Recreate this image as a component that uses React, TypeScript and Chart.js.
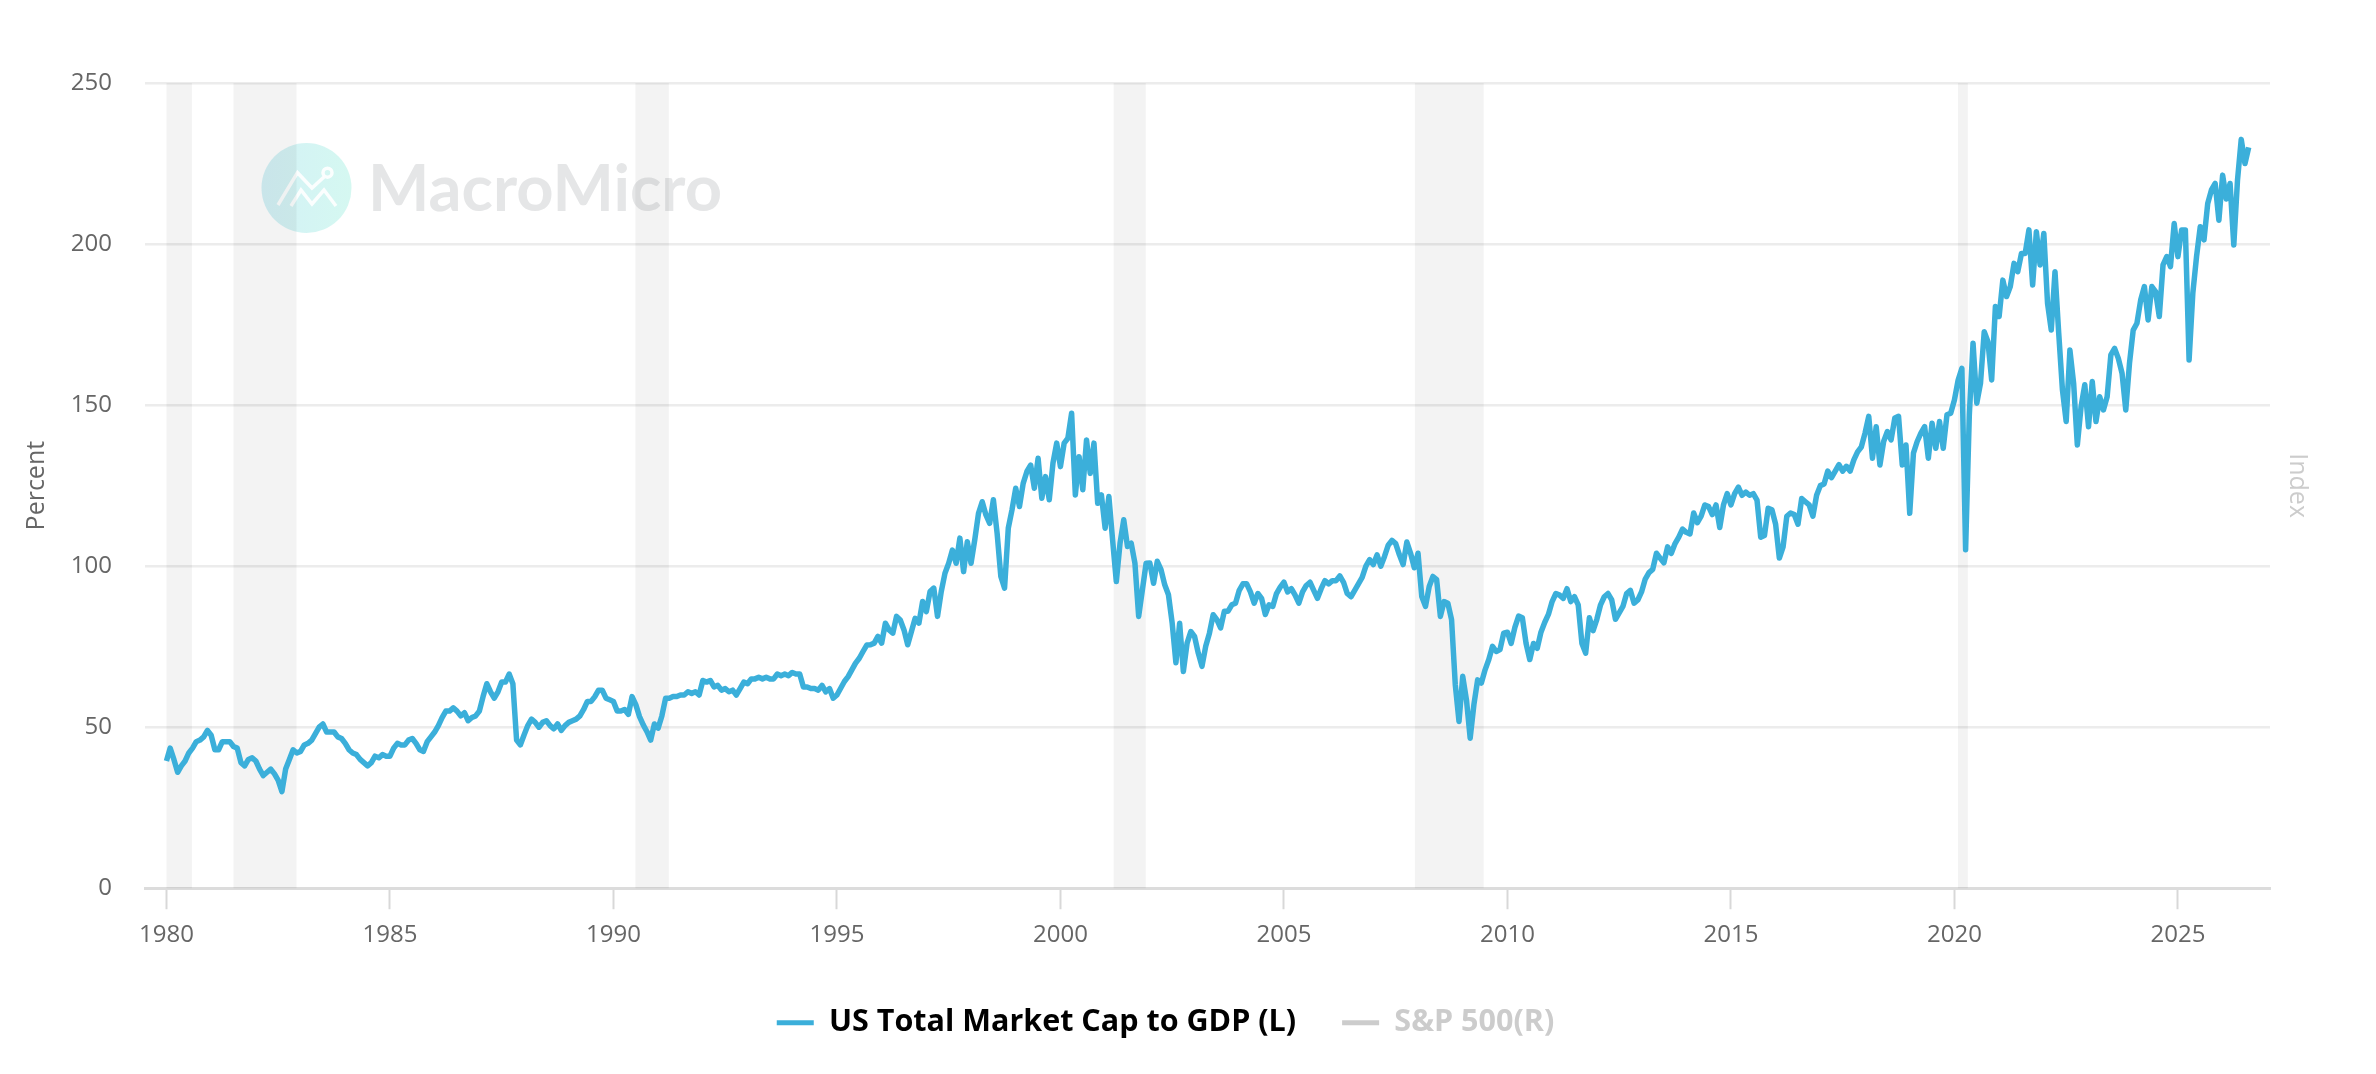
import React, { useEffect, useRef } from "react";
import { Chart, registerables } from "chart.js";

Chart.register(...registerables);

const seriesName = "US Total Market Cap to GDP (L)";
const otherSeriesName = "S&P 500(R)";
const yearTicks = [1980, 1985, 1990, 1995, 2000, 2005, 2010, 2015, 2020, 2025];
const percentTicks = [0, 50, 100, 150, 200, 250];
const recessions = [
  [1980.0, 1980.57],
  [1981.5, 1982.91],
  [1990.49, 1991.24],
  [2001.19, 2001.91],
  [2007.93, 2009.47],
  [2020.08, 2020.3],
];

// Monthly readings, January 1980 onward
const values1980s = [
  39.5, 43.5, 40, 36, 38, 39.5, 42, 43.5, 45.5, 46, 47, 49,
  47.5, 43, 43, 45.5, 45.5, 45.5, 44, 43.5, 39, 38, 40, 40.5,
  39.5, 37, 35, 36, 37, 35.5, 33.5, 30, 37, 40, 43, 42,
  42.5, 44.5, 45, 46, 48, 50, 51, 48.5, 48.5, 48.5, 47, 46.5,
  45, 43, 42, 41.5, 40, 39, 38, 39, 41, 40.5, 41.5, 41,
  41, 43.5, 45, 44.5, 44.5, 46, 46.5, 45, 43, 42.5, 45.5, 47,
  48.5, 50.5, 53, 55, 55, 56, 55, 53.5, 54.5, 52, 53, 53.5,
  55, 59.5, 63.5, 61, 59, 61, 64, 64, 66.5, 63.5, 46, 44.5,
  47.6, 50.5, 52.5, 51.5, 50, 51.5, 52, 50.5, 49.5, 51, 49, 50.5,
  51.5, 52, 52.5, 53.5, 55.5, 58, 58, 59.5, 61.5, 61.5, 59, 58.5,
];
const values1990s = [
  58, 55, 55, 55.5, 54, 59.5, 57, 53.3, 50.7, 48.6, 46, 51,
  49.7, 53.5, 59, 59, 59.5, 59.5, 60, 60, 61, 60.5, 61, 60,
  64.5, 64, 64.5, 62.5, 63, 61.5, 62, 61, 61.5, 60, 62, 64,
  63.5, 65, 65, 65.5, 65, 65.5, 65, 65, 66.5, 66, 66.5, 66,
  67, 66.5, 66.5, 62.5, 62.5, 62, 62, 61.5, 63, 61, 62, 59,
  60, 62.1, 64.2, 65.7, 67.8, 69.9, 71.4, 73.5, 75.5, 75.6, 76.1, 78.2,
  76.1, 82.3, 80.2, 79.2, 84.4, 83.3, 80.2, 75.6, 79.7, 83.8, 82.3, 89,
  85.9, 92.1, 93.2, 84.4, 92.1, 97.8, 100.9, 105, 100.9, 108.7, 98.3, 107.6,
  100.9, 108.2, 116.4, 120, 115.9, 113.3, 120.6, 110.2, 96.8, 93.2, 111.8, 117.5,
  124.2, 118.5, 125.7, 129.4, 131.4, 124.2, 133.5, 121.1, 127.8, 120.6, 132, 138.2,
];
const values2000s = [
  130.9, 138.2, 139.7, 147.5, 122.1, 134, 123.7, 139.2, 128.8, 138.2, 119.5, 122.1,
  111.8, 121.6, 108.2, 95.2, 107.1, 114.4, 106.1, 107.1, 100.9, 84.4, 92.6, 100.9,
  101, 94.7, 101.5, 98.9, 94.2, 91.1, 82.3, 70, 82.3, 67.3, 76.1, 79.7,
  78.2, 73, 68.9, 75.1, 79.2, 84.9, 83.4, 80.8, 86, 86, 88, 88.5,
  92.5, 94.5, 94.5, 92, 88.5, 91.5, 90, 85, 88, 87.5, 91.5, 93.5,
  95, 92, 93, 91, 88.5, 92, 94, 95, 92.5, 90, 93, 95.5,
  94.5, 95.5, 95.5, 97, 95, 91.5, 90.5, 92.5, 94.5, 96.5, 100, 102,
  100.5, 103.5, 100, 103, 106.5, 108, 107, 103.5, 100.5, 107.5, 104, 99.5,
  104, 90.6, 87.5, 93.7, 96.8, 95.8, 84.4, 89, 88.5, 83.4, 63.2, 51.8,
  65.8, 58.5, 46.6, 57, 64.7, 63.7, 67.8, 71, 75.1, 73.5, 74.1, 79.2,
];
const values2010s = [
  79.5, 76, 81, 84.5, 84, 76, 71, 76, 74.5, 79.5, 82.5, 85,
  89, 91.5, 91, 90, 93, 89, 90.5, 88, 76, 73, 84, 80,
  83.5, 88, 90.5, 91.5, 89.5, 83.5, 85.5, 87.5, 91.5, 92.5, 88.5, 89.5,
  92, 96, 98, 99, 104, 102.5, 101, 106, 104, 107, 109, 111.5,
  110.5, 110, 116.5, 113.5, 115.5, 119, 118.5, 116, 119, 112, 119, 122.5,
  119, 122.5, 124.5, 122, 123, 122, 122.5, 120.5, 109, 109.5, 118, 117.5,
  113, 102.5, 106, 115.5, 116.5, 116, 113, 121, 120, 119, 115.5, 122,
  125, 125.5, 129.5, 127.5, 129.5, 131.5, 129.5, 131, 129.5, 133, 135.5, 137,
  141.3, 146.5, 133.5, 143.3, 131.4, 138.7, 141.8, 139.2, 146, 146.5, 131.4, 137.6,
  116.4, 135.1, 138.7, 141.3, 143.3, 133.5, 144.4, 136.6, 144.9, 136.6, 147, 147.5,
];
const values2020s = [
  151.6, 157.8, 161.4, 105.1, 147, 169.2, 150.6, 156.8, 172.8, 169.7, 157.8, 180.6,
  177.5, 188.8, 183.7, 186.8, 194, 191.4, 197.1, 197.1, 204.4, 187.3, 203.8, 193.5,
  203.3, 181.6, 173.3, 191.4, 172.3, 154.7, 144.9, 167.1, 156.8, 137.6, 149.5, 156.3,
  143.3, 157.3, 144.9, 152.6, 148.5, 152.6, 165.6, 167.6, 164.5, 159.9, 148.5, 163,
  173.3, 175.4, 182.6, 186.8, 176.4, 186.8, 185.2, 177.5, 193.5, 196.1, 193, 206.4,
  196.1, 204.4, 204.4, 164, 184.7, 196.1, 205.4, 201.3, 212.6, 216.8, 218.8, 207.4,
  221.4, 214, 218.8, 199.7, 219.9, 232.5, 225, 230,
];

const FONT = "'Open Sans', sans-serif";
const allValues = [...values1980s, ...values1990s, ...values2000s, ...values2010s, ...values2020s];
const points = allValues.map((y, i) => ({ x: 1980 + i / 12, y }));

const recessionPlugin = {
  id: "recessions",
  beforeDatasetsDraw(chart: any) {
    const { ctx, chartArea, scales } = chart;
    ctx.save();
    ctx.fillStyle = "rgba(0,0,0,0.048)";
    for (const [from, to] of recessions) {
      const a = scales.x.getPixelForValue(from);
      const b = scales.x.getPixelForValue(to);
      ctx.fillRect(a, chartArea.top, b - a, chartArea.bottom - chartArea.top);
    }
    ctx.restore();
  },
};

const watermarkPlugin = {
  id: "watermark",
  beforeDatasetsDraw(chart: any) {
    const { ctx } = chart;
    ctx.save();
    const gradient = ctx.createLinearGradient(262, 0, 351, 0);
    gradient.addColorStop(0, "#d3f1f6");
    gradient.addColorStop(1, "#d5f8f1");
    ctx.fillStyle = gradient;
    ctx.beginPath();
    ctx.arc(306.5, 188, 45, 0, Math.PI * 2);
    ctx.fill();
    ctx.strokeStyle = "rgba(255,255,255,0.9)";
    ctx.lineWidth = 3.5;
    ctx.beginPath();
    ctx.moveTo(278, 205);
    ctx.lineTo(297.5, 172.7);
    ctx.lineTo(312, 188);
    ctx.lineTo(324, 177);
    ctx.stroke();
    ctx.beginPath();
    ctx.moveTo(291, 206);
    ctx.lineTo(301, 190);
    ctx.lineTo(312, 204);
    ctx.lineTo(324, 190);
    ctx.lineTo(336, 206);
    ctx.stroke();
    ctx.beginPath();
    ctx.arc(327.5, 172.7, 4.5, 0, Math.PI * 2);
    ctx.stroke();
    ctx.fillStyle = "#e5e6e7";
    ctx.font = "700 65px Lato, sans-serif";
    ctx.textAlign = "left";
    ctx.textBaseline = "alphabetic";
    ctx.fillText("MacroMicro", 368, 211);
    ctx.restore();
  },
};

export default function App() {
  const ref = useRef<HTMLCanvasElement | null>(null);
  useEffect(() => {
    document.body.style.margin = "0";
    const chart = new Chart(ref.current as HTMLCanvasElement, {
      type: "line",
      data: {
        datasets: [
          {
            label: seriesName,
            data: points,
            borderColor: "#3BAFDA",
            backgroundColor: "#3BAFDA",
            borderWidth: 5.5,
            borderJoinStyle: "round",
            borderCapStyle: "butt",
            pointRadius: 0,
            tension: 0,
            yAxisID: "y",
          },
          {
            label: otherSeriesName,
            data: [],
            borderColor: "#cccccc",
            backgroundColor: "#cccccc",
            borderWidth: 3.5,
            pointRadius: 0,
            yAxisID: "y2",
          },
        ],
      },
      options: {
        responsive: false,
        animation: false,
        devicePixelRatio: 1,
        parsing: false,
        normalized: true,
        layout: { padding: { top: 83, left: 0, right: 45, bottom: 26 } },
        plugins: {
          tooltip: { enabled: false },
          legend: {
            position: "bottom",
            onClick: () => {},
            labels: {
              boxWidth: 37,
              boxHeight: 5,
              padding: 46,
              font: { family: FONT, size: 30.5, weight: "bold" },
              generateLabels: (c: any) =>
                c.data.datasets.map((d: any, i: number) => ({
                  text: d.label,
                  fillStyle: d.borderColor,
                  strokeStyle: d.borderColor,
                  lineWidth: 0,
                  fontColor: i === 0 ? "#000000" : "#cccccc",
                  hidden: false,
                  datasetIndex: i,
                })),
            },
          },
        },
        scales: {
          x: {
            type: "linear",
            min: 1979.52,
            max: 2027.06,
            afterBuildTicks: (s: any) => {
              s.ticks = yearTicks.map((value) => ({ value }));
            },
            afterFit: (s: any) => {
              s.height = 73.25;
            },
            border: { color: "#dcdcdc", width: 3 },
            grid: {
              drawOnChartArea: false,
              drawTicks: true,
              tickLength: 21,
              tickColor: "#d8d8d8",
              tickWidth: 2,
            },
            ticks: {
              autoSkip: false,
              maxRotation: 0,
              padding: 12,
              color: "#666666",
              font: { family: FONT, size: 24 },
              callback: (v: any) => String(v),
            },
          },
          y: {
            position: "left",
            min: 0,
            max: 250,
            afterBuildTicks: (s: any) => {
              s.ticks = percentTicks.map((value) => ({ value }));
            },
            afterFit: (s: any) => {
              s.width = 145;
            },
            border: { display: false },
            grid: { color: "#ececec", lineWidth: 2.5, drawTicks: false },
            ticks: {
              padding: 33,
              color: "#666666",
              font: { family: FONT, size: 24 },
            },
            title: {
              display: true,
              text: "Percent",
              color: "#666666",
              font: { family: FONT, size: 25 },
              padding: { top: 22, bottom: 0 },
            },
          },
          y2: {
            position: "right",
            min: 0,
            max: 8000,
            afterFit: (s: any) => {
              s.width = 61;
            },
            border: { display: false },
            grid: { display: false, drawOnChartArea: false },
            ticks: { display: false },
            title: {
              display: true,
              text: "Index",
              color: "#cccccc",
              font: { family: FONT, size: 25 },
              padding: { top: 19, bottom: 0 },
            },
          },
        },
      },
      plugins: [watermarkPlugin, recessionPlugin],
    } as any);
    return () => chart.destroy();
  }, []);
  return (
    <div style={{ width: 2376, height: 1074, background: "#ffffff" }}>
      <canvas ref={ref} width={2376} height={1074} style={{ display: "block" }} />
    </div>
  );
}
